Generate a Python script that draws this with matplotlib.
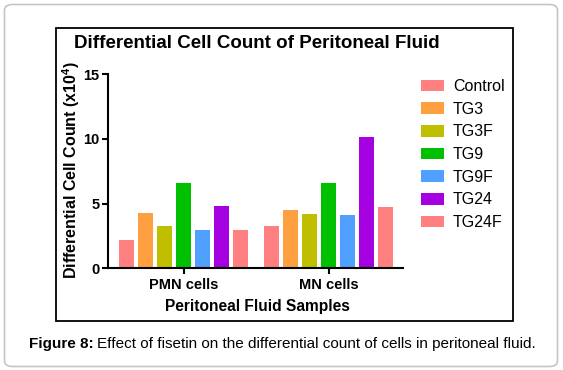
import numpy as np
import matplotlib
matplotlib.use("Agg")
import matplotlib.pyplot as plt
from matplotlib.patches import FancyBboxPatch, Rectangle, Patch

plt.rcParams['font.family'] = ['Liberation Sans', 'DejaVu Sans']
plt.rcParams['mathtext.fontset'] = 'custom'
plt.rcParams['mathtext.bf'] = 'Liberation Sans:bold'
plt.rcParams['mathtext.rm'] = 'Liberation Sans:bold'

groups = ['PMN cells', 'MN cells']
series = ['Control', 'TG3', 'TG3F', 'TG9', 'TG9F', 'TG24', 'TG24F']
pmn = [2.2, 4.3, 3.3, 6.55, 2.95, 4.8, 2.95]
mn = [3.3, 4.5, 4.2, 6.55, 4.1, 10.1, 4.75]
colors = ['#FF8080', '#FFA040', '#BFBF00', '#00C000', '#50A0FF', '#A500E0', '#FF8080']

fig = plt.figure(figsize=(5.63, 3.70), dpi=100)
W, H = 563, 370

def fx(px):
    return px / W

def fy(py):
    return 1 - py / H

# outer rounded border and chart frame
fig.patches.append(FancyBboxPatch((fx(4.5), fy(366.5)), fx(553), (362 / H),
                                  boxstyle="round,pad=0,rounding_size=0.015",
                                  transform=fig.transFigure, fill=False,
                                  edgecolor='#c4c4c4', linewidth=1.2))
fig.patches.append(Rectangle((fx(56), fy(321)), fx(457), 293 / H,
                             transform=fig.transFigure, fill=False,
                             edgecolor='black', linewidth=1.3))

ax = fig.add_axes([fx(108), fy(268.3), fx(403 - 108), (268.3 - 74) / H])

centers = np.array([0, 7.63])
width = 0.79
for j, name in enumerate(series):
    vals = [pmn[j], mn[j]]
    ax.bar(centers + (j - 3), vals, width=width, color=colors[j], label=name)

ax.set_xlim(-4.0, 11.55)
ax.set_ylim(0, 15)
ax.set_yticks([0, 5, 10, 15])
ax.set_xticks(centers)
ax.set_xticklabels(groups, fontweight='bold', fontsize=10.5)
for t in ax.get_yticklabels():
    t.set_fontweight('bold')
    t.set_fontsize(10.5)
ax.tick_params(axis='both', width=1.5, length=4, pad=2)
ax.tick_params(axis='x', pad=3)
for s in ['top', 'right']:
    ax.spines[s].set_visible(False)
for s in ['left', 'bottom']:
    ax.spines[s].set_linewidth(1.5)

fig.text(fx(71), fy(170), r'Differential Cell Count (x10$^\mathbf{4}$)',
         fontweight='bold', fontsize=11.5, rotation=90, ha='center', va='center')

fig.text(fx(256.5), fy(44), 'Differential Cell Count of Peritoneal Fluid',
         fontsize=13.5, fontweight='bold', ha='center', va='center')
fig.text(fx(257), fy(306), 'Peritoneal Fluid Samples', fontsize=11.2,
         fontweight='bold', ha='center', va='center')

handles = [Patch(facecolor=c, edgecolor='none') for c in colors]
fig.legend(handles, series, loc='upper left', bbox_to_anchor=(fx(421), fy(79)),
           frameon=False, fontsize=11.5, handlelength=1.45, handleheight=0.75,
           handletextpad=0.55, labelspacing=0.48, borderpad=0, borderaxespad=0)

# caption
r = fig.canvas.get_renderer()
t1 = fig.text(fx(29), fy(344), 'Figure 8:', fontsize=11, fontweight='bold',
              va='center', ha='left')
bb = t1.get_window_extent(renderer=r)
fig.text(bb.x1 / W + fx(3), fy(344),
         'Effect of fisetin on the differential count of cells in peritoneal fluid.',
         fontsize=11, va='center', ha='left')

fig.savefig('out.png', dpi=100)
